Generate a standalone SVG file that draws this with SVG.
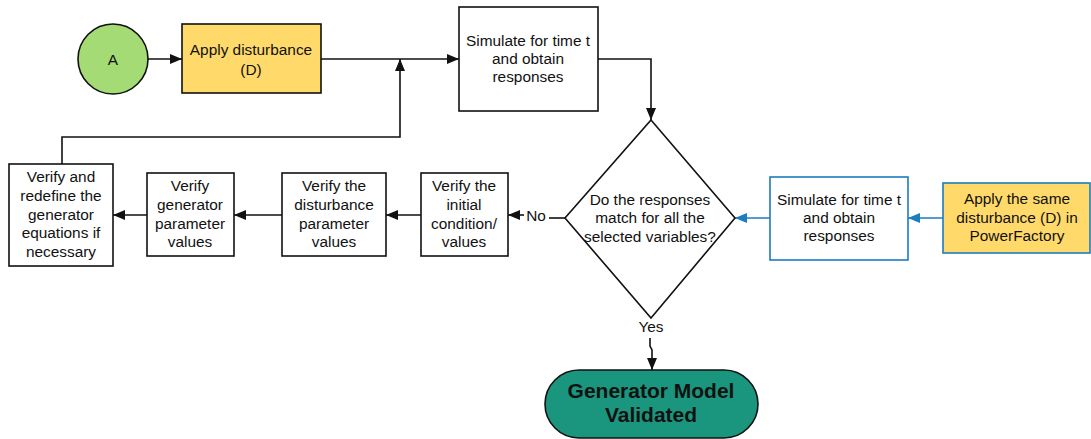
<svg xmlns="http://www.w3.org/2000/svg" width="1091" height="439" viewBox="0 0 1091 439">
<style>
text{font-family:"Liberation Sans",Arial,sans-serif;font-size:15.4px;fill:#111;text-anchor:middle;dominant-baseline:central}
.box{fill:#fff;stroke:#111;stroke-width:1.6}
.yel{fill:#FFDA6A;stroke:#111;stroke-width:1.6}
.blue{stroke:#1C7CC0}
.c{fill:none;stroke:#111;stroke-width:1.6}
.cb{fill:none;stroke:#1C7CC0;stroke-width:1.6}
.big{font-size:21px;font-weight:bold}
</style>
<defs>
<marker id="ah" viewBox="0 0 12 10" refX="12" refY="5" markerWidth="12" markerHeight="10" markerUnits="userSpaceOnUse" orient="auto"><path d="M0,0 L12,5 L0,10 Z" fill="#111"/></marker>
<marker id="ab" viewBox="0 0 12 10" refX="12" refY="5" markerWidth="12" markerHeight="10" markerUnits="userSpaceOnUse" orient="auto"><path d="M0,0 L12,5 L0,10 Z" fill="#1C7CC0"/></marker>
</defs>
<g id="connectors">
<line class="c" x1="148" y1="59" x2="182" y2="59" marker-end="url(#ah)"/>
<line class="c" x1="321" y1="59" x2="459" y2="59" marker-end="url(#ah)"/>
<polyline class="c" points="62,164 62,137 400,137 400,59" marker-end="url(#ah)"/>
<polyline class="c" points="598,59 651,59 651,120" marker-end="url(#ah)"/>
<line class="cb" x1="943" y1="218" x2="908" y2="218" marker-end="url(#ab)"/>
<line class="cb" x1="770" y1="218" x2="735" y2="218" marker-end="url(#ab)"/>
<line class="c" x1="565" y1="218" x2="549" y2="218"/>
<text x="536" y="215">No</text>
<line class="c" x1="524" y1="215" x2="508" y2="215" marker-end="url(#ah)"/>
<line class="c" x1="421" y1="215" x2="386" y2="215" marker-end="url(#ah)"/>
<line class="c" x1="282" y1="215" x2="234" y2="215" marker-end="url(#ah)"/>
<line class="c" x1="147" y1="215" x2="113" y2="215" marker-end="url(#ah)"/>
<text x="651" y="326">Yes</text>
<polyline class="c" points="650,338 650,346 652,350 652,370" marker-end="url(#ah)"/>
</g>
<g id="nodeA">
<circle cx="113" cy="59" r="35" fill="#A5DB74" stroke="#111" stroke-width="1.6"/>
<text x="113" y="59">A</text>
</g>
<g id="applyDisturbance">
<rect class="yel" x="182" y="24" width="139" height="69"/>
<text x="251" y="49">Apply disturbance</text>
<text x="251" y="69">(D)</text>
</g>
<g id="simulate1">
<rect class="box" x="459" y="7" width="139" height="104"/>
<text x="528" y="40">Simulate for time t</text>
<text x="528" y="58">and obtain</text>
<text x="528" y="76">responses</text>
</g>
<g id="decision">
<polygon points="651,120 735,218 651,318 565,218" fill="#fff" stroke="#111" stroke-width="1.6"/>
<text x="650" y="199">Do the responses</text>
<text x="650" y="217">match for all the</text>
<text x="650" y="236">selected variables?</text>
</g>
<g id="simulate2">
<rect class="box blue" x="770" y="177" width="138" height="83"/>
<text x="839" y="199">Simulate for time t</text>
<text x="839" y="217">and obtain</text>
<text x="839" y="235">responses</text>
</g>
<g id="applySame">
<rect class="yel blue" x="943" y="183" width="147" height="70"/>
<text x="1017" y="198">Apply the same</text>
<text x="1017" y="217">disturbance (D) in</text>
<text x="1017" y="235">PowerFactory</text>
</g>
<g id="verifyInitial">
<rect class="box" x="421" y="173" width="87" height="83"/>
<text x="464" y="185">Verify the</text>
<text x="464" y="204">initial</text>
<text x="464" y="223">condition/</text>
<text x="464" y="241">values</text>
</g>
<g id="verifyDisturbance">
<rect class="box" x="282" y="173" width="104" height="83"/>
<text x="334" y="185">Verify the</text>
<text x="334" y="204">disturbance</text>
<text x="334" y="223">parameter</text>
<text x="334" y="241">values</text>
</g>
<g id="verifyGenerator">
<rect class="box" x="147" y="173" width="87" height="83"/>
<text x="190" y="185">Verify</text>
<text x="190" y="204">generator</text>
<text x="190" y="223">parameter</text>
<text x="190" y="241">values</text>
</g>
<g id="verifyRedefine">
<rect class="box" x="9" y="164" width="104" height="102" stroke-width="2.2"/>
<text x="61" y="176">Verify and</text>
<text x="61" y="195">redefine the</text>
<text x="61" y="214">generator</text>
<text x="61" y="232">equations if</text>
<text x="61" y="251">necessary</text>
</g>
<g id="validated">
<rect x="545" y="370" width="213" height="68" rx="34" ry="34" fill="#19967D" stroke="#111" stroke-width="1.6"/>
<text class="big" x="651" y="390">Generator Model</text>
<text class="big" x="651" y="414">Validated</text>
</g>
</svg>
